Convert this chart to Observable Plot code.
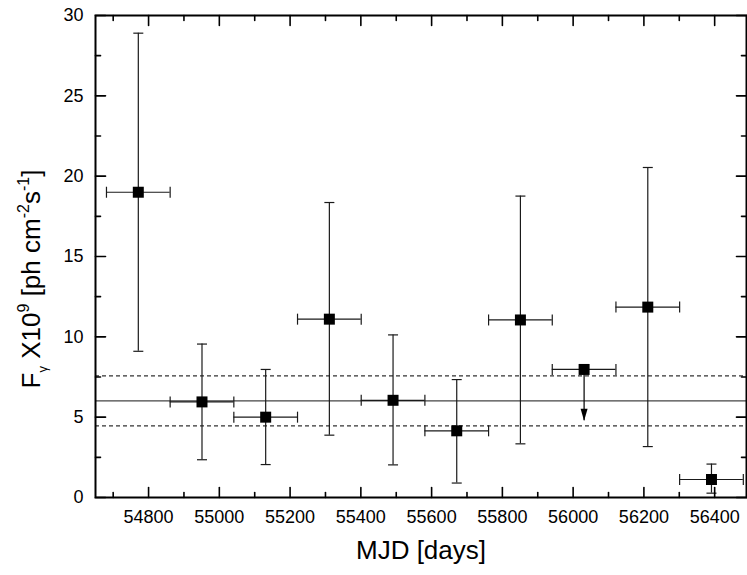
<!DOCTYPE html>
<html>
<head>
<meta charset="utf-8">
<script src="https://cdn.jsdelivr.net/npm/d3@7"></script>
<script src="https://cdn.jsdelivr.net/npm/@observablehq/plot@0.6"></script>
<style>
  html, body { margin: 0; padding: 0; background: #fff; }
  #chart { width: 747px; height: 575px; }
</style>
</head>
<body>
<div id="chart"></div>
<script>
// ---- data ----
const mjd      = [54771, 54951, 55131, 55311, 55491, 55671, 55851, 56031, 56211, 56391];
const mjdLo    = [54681, 54861, 55041, 55221, 55401, 55581, 55761, 55941, 56121, 56301];
const mjdHi    = [54861, 55041, 55221, 55401, 55581, 55761, 55941, 56121, 56301, 56481];
const flux     = [19.0, 5.95, 5.0, 11.1, 6.05, 4.15, 11.05, 7.97, 11.85, 1.12];
const fluxLo   = [9.1, 2.35, 2.05, 3.88, 2.03, 0.9, 3.34, null, 3.17, 0.27];
const fluxHi   = [28.9, 9.55, 7.97, 18.36, 10.12, 7.34, 18.76, null, 20.54, 2.08];
const isUpperLimit = [false, false, false, false, false, false, false, true, false, false];
const ulArrowTip = [4.77];
const meanFlux = [6.02];
const meanBand = [4.46, 7.57];

const xMajor = [54800, 55000, 55200, 55400, 55600, 55800, 56000, 56200, 56400];
const xMinor = [54700, 54900, 55100, 55300, 55500, 55700, 55900, 56100, 56300];
const yMajor = [0, 5, 10, 15, 20, 25, 30];
const yMinor = [2.5, 7.5, 12.5, 17.5, 22.5, 27.5];
const xLabel = "MJD [days]";

// ---- table built from the arrays ----
const points = mjd.map((m, i) => ({
  mjd: m, lo: mjdLo[i], hi: mjdHi[i], f: flux[i],
  fLo: fluxLo[i], fHi: fluxHi[i], ul: isUpperLimit[i]
}));
const detections = points.filter(d => !d.ul);
const limits = points.filter(d => d.ul);
const limitArrows = limits.map((d, i) => ({mjd: d.mjd, f: d.f, tip: ulArrowTip[i]}));

const tickShape = {draw(ctx, l) { ctx.moveTo(0, 0); ctx.lineTo(0, -l); }};
const hCap = {draw(ctx) { ctx.moveTo(-5, 0); ctx.lineTo(5, 0); }};
const vCap = {draw(ctx) { ctx.moveTo(0, -5.5); ctx.lineTo(0, 5.5); }};
const downHead = {draw(ctx) { ctx.moveTo(0, 0); ctx.lineTo(-3.5, -12); ctx.lineTo(3.5, -12); ctx.closePath(); }};
const ink = "#1a1a1a";

function ticks(values, ch, anchor, rot, len) {
  return Plot.vector(values, {
    [ch]: d => d, frameAnchor: anchor, length: len, rotate: rot,
    anchor: "start", shape: tickShape, stroke: "#000", strokeWidth: 1.6
  });
}

const svg = Plot.plot({
  width: 747,
  height: 575,
  marginLeft: 95,
  marginRight: 1,
  marginTop: 15,
  marginBottom: 78,
  style: {fontFamily: "'Liberation Sans', Arial, sans-serif", background: "#fff", color: "#000"},
  x: {domain: [54650, 56490]},
  y: {domain: [0, 30]},
  marks: [
    // mean and band
    Plot.ruleY(meanFlux, {y: d => d, stroke: "#444", strokeWidth: 1.2}),
    Plot.ruleY(meanBand, {y: d => d, stroke: "#333", strokeWidth: 1.2, strokeDasharray: "4,3"}),
    // horizontal bin bars
    Plot.ruleY(points, {y: "f", x1: "lo", x2: "hi", stroke: ink, strokeWidth: 1.2}),
    Plot.dot(points, {x: "lo", y: "f", symbol: vCap, r: 5, fill: "none", stroke: ink, strokeWidth: 1.2}),
    Plot.dot(points, {x: "hi", y: "f", symbol: vCap, r: 5, fill: "none", stroke: ink, strokeWidth: 1.2}),
    // vertical error bars
    Plot.ruleX(detections, {x: "mjd", y1: "fLo", y2: "fHi", stroke: ink, strokeWidth: 1.2}),
    Plot.dot(detections, {x: "mjd", y: "fLo", symbol: hCap, r: 5, fill: "none", stroke: ink, strokeWidth: 1.2}),
    Plot.dot(detections, {x: "mjd", y: "fHi", symbol: hCap, r: 5, fill: "none", stroke: ink, strokeWidth: 1.2}),
    // upper limit arrow
    Plot.ruleX(limitArrows, {x: "mjd", y1: "f", y2: "tip", stroke: "#000", strokeWidth: 1.2}),
    Plot.dot(limitArrows, {x: "mjd", y: "tip", symbol: downHead, r: 5, fill: "#000", stroke: "none"}),
    // squares
    Plot.dot(points, {x: "mjd", y: "f", symbol: "square", r: 6.2, fill: "#000", stroke: "none"}),
    // frame + ticks
    Plot.frame({stroke: "#000", strokeWidth: 2}),
    ticks(xMajor, "x", "bottom", 0, 10),
    ticks(xMinor, "x", "bottom", 0, 5),
    ticks(xMajor, "x", "top", 180, 10),
    ticks(xMinor, "x", "top", 180, 5),
    ticks(yMajor, "y", "left", 90, 10),
    ticks(yMinor, "y", "left", 90, 5),
    ticks(yMajor, "y", "right", -90, 10),
    ticks(yMinor, "y", "right", -90, 5),
    Plot.axisX({ticks: xMajor, tickSize: 0, tickPadding: 13, fontSize: 18, tickFormat: d3.format("d"), label: null}),
    Plot.axisY({ticks: yMajor, tickSize: 0, tickPadding: 12, fontSize: 18, tickFormat: d3.format("d"), label: null}),
    Plot.text([xLabel], {text: d => d, frameAnchor: "bottom", dy: 61, lineAnchor: "bottom", fontSize: 26, fill: "#000"})
  ]
});

// y-axis title with sub/superscripts
const t = d3.select(svg).append("text")
  .attr("transform", "translate(40,279) rotate(-90)")
  .attr("text-anchor", "middle")
  .attr("font-family", "'Liberation Sans', Arial, sans-serif")
  .attr("font-size", 26)
  .attr("fill", "#000");
const parts = [
  ["F", 26, 0], ["γ", 13, 7], [" X10", 26, -7], ["9", 16, -11], [" [ph cm", 26, 11],
  ["-2", 16, -11], ["s", 26, 11], ["-1", 16, -11], ["]", 26, 11]
];
parts.forEach(([s, fs, dy]) => t.append("tspan").attr("font-size", fs).attr("dy", dy).text(s));

document.getElementById("chart").append(svg);
</script>
</body>
</html>
